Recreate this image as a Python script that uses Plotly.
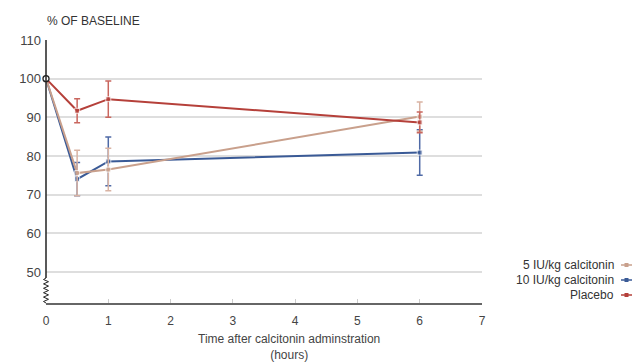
import plotly.graph_objects as go

hours = [0, 0.5, 1, 6]
calc5 = [100, 75.6, 76.5, 90.2]
calc5_err = [0, 5.9, 5.5, 3.8]
calc10 = [100, 74.0, 78.6, 80.9]
calc10_err = [0, 4.3, 6.3, 5.9]
placebo = [100, 91.7, 94.7, 88.7]
placebo_err = [0, 3.1, 4.7, 2.7]

series_names = ["5 IU/kg calcitonin", "10 IU/kg calcitonin", "Placebo"]
line_colors = ["#c9a08c", "#3a5a96", "#b5403a"]
err_colors = ["#d9b3a3", "#4f6aa6", "#c9665e"]

y_ticks = [50, 60, 70, 80, 90, 100, 110]
x_ticks = [0, 1, 2, 3, 4, 5, 6, 7]
x_title = "Time after calcitonin adminstration<br>(hours)"
y_title = "% OF BASELINE"

FONT = "Liberation Sans, Arial, sans-serif"

fig = go.Figure()
data = [(calc5, calc5_err), (calc10, calc10_err), (placebo, placebo_err)]
for idx in [1, 0, 2]:
    vals, errs = data[idx]
    fig.add_trace(go.Scatter(
        x=hours, y=vals, mode="lines+markers", name=series_names[idx],
        line=dict(color=line_colors[idx], width=2),
        marker=dict(symbol="square", size=[0, 5, 5, 5], color=line_colors[idx]),
        error_y=dict(type="data", array=errs, visible=True, color=err_colors[idx],
                     thickness=1.5, width=3),
        showlegend=False, cliponaxis=False,
    ))

L, T, W, H = 46, 40, 436, 263

shapes = []
# y-axis line (above the break)
shapes.append(dict(type="line", xref="paper", yref="paper", x0=0, x1=0,
                   y0=(303 - 278) / H, y1=1, line=dict(color="#222", width=1.5)))
# zigzag break
pts = ["M0,25"]
yy = 23.5
i = 0
while yy > 1:
    xx = -2.5 if i % 2 == 0 else 2.5
    pts.append("L%.1f,%.1f" % (xx, yy))
    yy -= 2.2
    i += 1
pts.append("L0,0")
shapes.append(dict(type="path", xref="paper", yref="paper", xsizemode="pixel", ysizemode="pixel",
                   xanchor=0, yanchor=0, path=" ".join(pts),
                   line=dict(color="#222", width=1)))

# legend (symbol on the right side)
legend_rows = [(265, 0), (280, 1), (295, 2)]
annotations = []
for ypix, idx in legend_rows:
    yp = 1 - (ypix - T) / H
    annotations.append(dict(xref="paper", yref="paper", x=(616 - L) / W, y=yp,
                            text=series_names[idx], showarrow=False, xanchor="right",
                            yanchor="middle", font=dict(size=12, color="#333", family=FONT)))
    x0 = (621 - L) / W
    x1 = (632 - L) / W
    shapes.append(dict(type="line", xref="paper", yref="paper", x0=x0, x1=x1, y0=yp, y1=yp,
                       line=dict(color=line_colors[idx], width=1.5)))
    xm = (626.5 - L) / W
    shapes.append(dict(type="rect", xref="paper", yref="paper", xsizemode="pixel",
                       ysizemode="pixel", xanchor=xm, yanchor=yp, x0=-2, x1=2, y0=-2, y1=2,
                       fillcolor=line_colors[idx], line=dict(width=0)))

annotations.append(dict(xref="paper", yref="paper", x=(45 - L) / W, y=1 + (T - 20.5) / H,
                        text=y_title, showarrow=False, xanchor="left",
                        yanchor="middle", font=dict(size=12, color="#333", family=FONT)))
annotations.append(dict(xref="paper", yref="paper", x=(289 - L) / W, y=1 - (347 - T) / H,
                        text=x_title, showarrow=False, xanchor="center", align="center",
                        yanchor="middle", font=dict(size=12, color="#444", family=FONT)))

# shared baseline point (drawn last, on top of the axis line)
fig.add_trace(go.Scatter(
    x=[hours[0]], y=[placebo[0]], mode="markers", cliponaxis=False,
    marker=dict(symbol="circle", size=6, color="white", line=dict(color="#222", width=1.3)),
    showlegend=False,
))

fig.update_layout(
    width=634, height=363,
    margin=dict(l=L, r=634 - L - W, t=T, b=363 - T - H, autoexpand=False),
    paper_bgcolor="white", plot_bgcolor="white",
    font=dict(family=FONT, color="#444", size=12),
    shapes=shapes, annotations=annotations,
    xaxis=dict(range=[0, 7], tickvals=x_ticks, showgrid=False, zeroline=False,
               showline=True, linecolor="#666", linewidth=2, automargin=False,
               ticks="inside", ticklen=4, tickcolor="#ccc", tickwidth=1,
               tickfont=dict(size=12, color="#444"), ticklabelstandoff=6),
    yaxis=dict(range=[42, 110], tickvals=y_ticks, showgrid=True, gridcolor="#dedede",
               gridwidth=2, zeroline=False, showline=False, ticks="", automargin=False,
               tickfont=dict(size=13, color="#444"), ticklabelstandoff=4),
)

fig.write_html("out.html", config={"displayModeBar": False},
               post_script="document.body.style.margin='0';document.body.style.overflow='hidden';")
